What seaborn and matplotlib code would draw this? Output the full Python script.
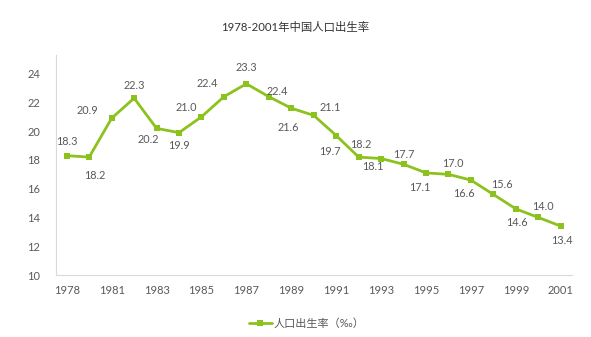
import matplotlib
matplotlib.use("Agg")
import matplotlib.pyplot as plt
import seaborn as sns
import pandas as pd
from matplotlib.lines import Line2D

# Birth rate of China (per mille), 1978 and 1980-2001
years = ["1978", "1980", "1981", "1982", "1983", "1984", "1985", "1986", "1987",
         "1988", "1989", "1990", "1991", "1992", "1993", "1994", "1995", "1996",
         "1997", "1998", "1999", "2000", "2001"]
birth_rate = [18.3, 18.2, 20.9, 22.3, 20.2, 19.9, 21.0, 22.4, 23.3, 22.4, 21.6,
              21.1, 19.7, 18.2, 18.1, 17.7, 17.1, 17.0, 16.6, 15.6, 14.6, 14.0, 13.4]
shown_ticks = ["1978", "1981", "1983", "1985", "1987", "1989", "1991", "1993",
               "1995", "1997", "1999", "2001"]
y_ticks = [10, 12, 14, 16, 18, 20, 22, 24]

title = "1978-2001年中国人口出生率"
series_name = "人口出生率（‰）"

# label placement (pixel offsets from each point)
label_offsets = [(0, 14), (6, -18), (-24, 8), (0, 13), (-8, -11), (0, -13),
                 (-15, 9), (-17, 13), (0, 16), (8, 5), (-3, -19), (16, 8),
                 (-6, -16), (2, 13), (-8, -8), (0, 10), (-6, -15), (4, 11),
                 (-7, -13), (9, 10), (1, -14), (5, 11), (1, -14)]

sns.set_theme(style="white")
plt.rcParams["font.family"] = ["Lato", "Noto Sans CJK SC", "DejaVu Sans"]

green = "#8CC21E"
text_gray = "#595959"

df = pd.DataFrame({"year": years, "rate": birth_rate})

fig = plt.figure(figsize=(5.91, 3.37), dpi=100)
W, H = 591, 337
ax = fig.add_axes([55.5 / W, (H - 275) / H, (572 - 55.5) / W, (275 - 55) / H])

sns.lineplot(data=df, x="year", y="rate", ax=ax, sort=False, color=green,
             linewidth=2.0, marker="s", markersize=5, markeredgewidth=0,
             markerfacecolor=green)

ax.set_xlim(-0.5, len(years) - 0.5)
ax.set_ylim(10, 25.3)
ax.set_yticks(y_ticks)
ax.set_yticklabels([str(v) for v in y_ticks])
pos = [years.index(t) for t in shown_ticks]
ax.set_xticks(pos)
ax.set_xticklabels(shown_ticks)
ax.set_xlabel("")
ax.set_ylabel("")
ax.tick_params(axis="both", length=0, labelsize=8, labelcolor=text_gray)
ax.tick_params(axis="x", pad=7)
ax.tick_params(axis="y", pad=11)

for s in ["top", "right"]:
    ax.spines[s].set_visible(False)
for s in ["left", "bottom"]:
    ax.spines[s].set_color("#D9D9D9")
    ax.spines[s].set_linewidth(0.8)

for i, (v, (dx, dy)) in enumerate(zip(birth_rate, label_offsets)):
    ax.annotate(f"{v:.1f}", xy=(i, v), xytext=(dx, dy), textcoords="offset pixels",
                ha="center", va="center", fontsize=7.8, color=text_gray)

fig.text(0.5, (H - 28) / H, title, ha="center", va="center", fontsize=8.2,
         color="#333333")

handle = Line2D([], [], color=green, linewidth=2.0, marker="s", markersize=5,
                markeredgewidth=0)
fig.legend([handle], [series_name], loc="center", bbox_to_anchor=(307 / W, (H - 323) / H),
           frameon=False, fontsize=8, handlelength=2.0, handletextpad=0.2,
           labelcolor=text_gray)

fig.savefig("out.png", dpi=100, facecolor="white")
